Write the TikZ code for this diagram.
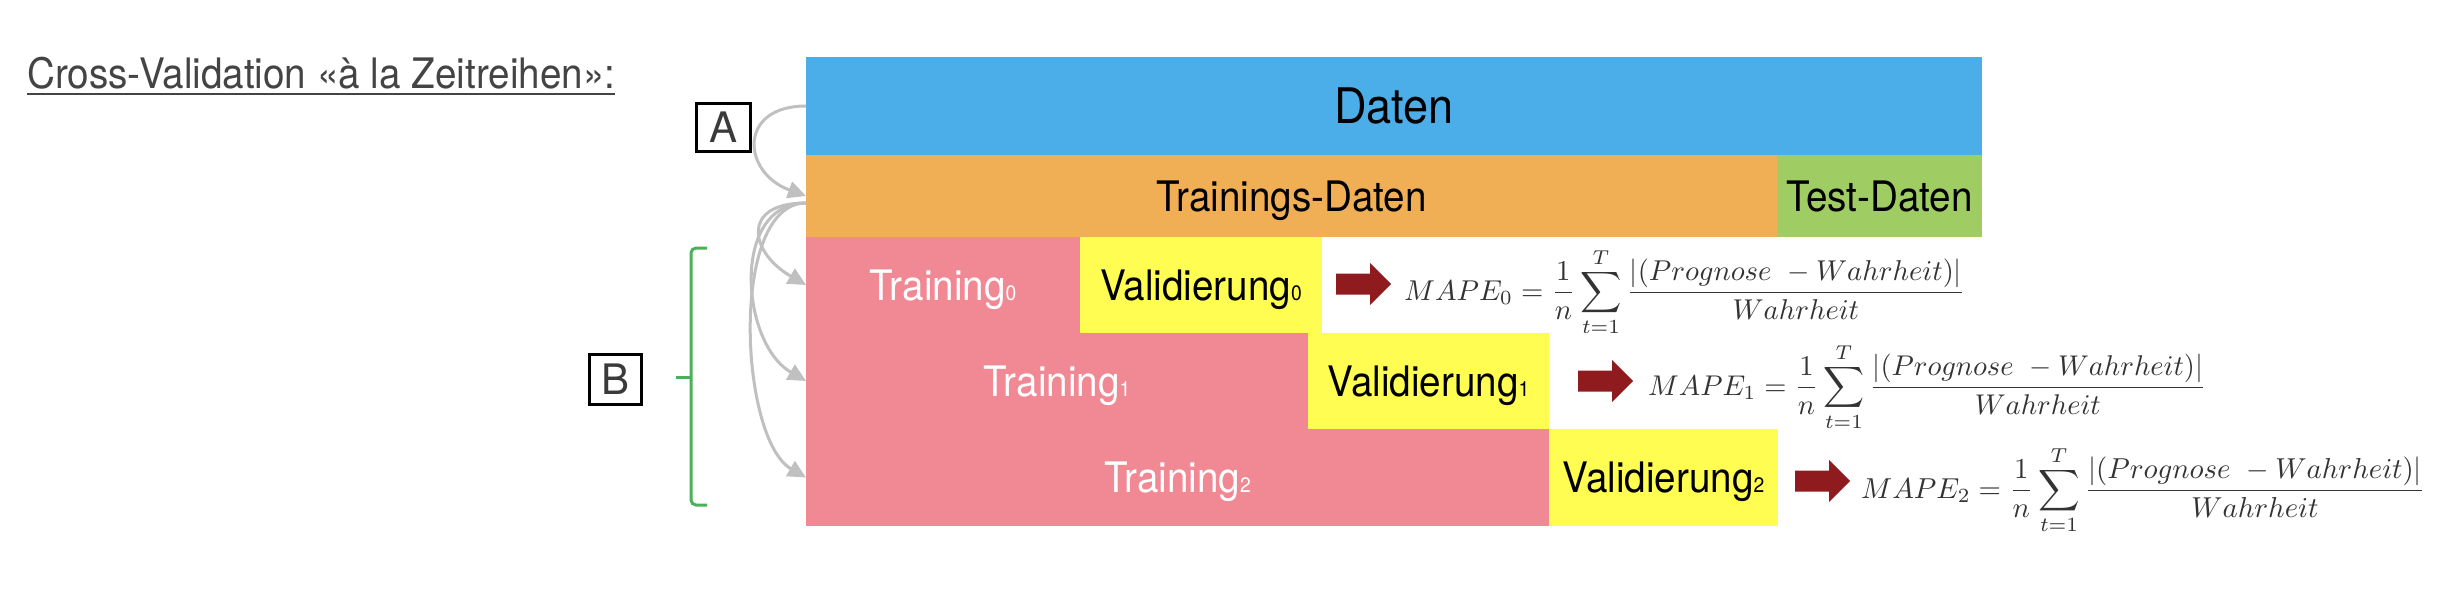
\documentclass[tikz,border=0pt]{standalone}
\usepackage[no-math]{fontspec}
\usepackage{graphicx}
\usetikzlibrary{arrows.meta}
\newfontfamily\hv{TeX Gyre Heros}[FakeStretch=0.92]
\newfontfamily\hvn{TeX Gyre Heros}
\newcommand\mysub[1]{{\fontsize{21}{21}\selectfont #1}}
\definecolor{cblue}{HTML}{4BAEE9}
\definecolor{corange}{HTML}{F0AF55}
\definecolor{cgreen}{HTML}{A0CC64}
\definecolor{cpink}{HTML}{F08994}
\definecolor{cyellow}{HTML}{FFFC52}
\definecolor{cred}{HTML}{8F1B1F}
\definecolor{cgray}{HTML}{C0C0C0}
\definecolor{cbrk}{HTML}{4CAF5A}
\definecolor{ctitle}{HTML}{444444}
\definecolor{cmath}{HTML}{333333}
\definecolor{cdark}{HTML}{3A3A3A}
\begin{document}
\begin{tikzpicture}[x=1pt,y=-1pt,
  box/.style={anchor=north west, inner sep=0pt, outer sep=0pt, text height=30pt, text depth=0pt, font=\hv\fontsize{42}{46}\selectfont},
  lab/.style={draw=black, line width=3pt, inner sep=0pt, text=cdark, text height=30pt, text depth=0pt, font=\hvn\fontsize{42}{46}\selectfont},
  garr/.style={draw=cgray, line width=3pt, -{Triangle[length=18pt,width=17pt]}},
  fml/.style={anchor=west, inner sep=0pt, text=cmath},
  redarrow/.pic={\fill[cred] (0,-10.5) -- (34,-10.5) -- (34,-21) -- (55,0) -- (34,21) -- (34,10.5) -- (0,10.5) -- cycle;}
]
\fill[white] (0,0) rectangle (2444,598);
\useasboundingbox (0,0) rectangle (2444,598);

% title
\node[anchor=base west, inner sep=0pt, text=ctitle, font=\hv\fontsize{42}{46}\selectfont] (title) at (27,88) {Cross-Validation «à la Zeitreihen»:};
\draw[ctitle, line width=2.5pt] ([yshift=-6pt]title.base west) -- ([yshift=-6pt]title.base east);

% boxes
\node[box, fill=cblue, minimum width=1176pt, minimum height=98pt, text height=35pt, font=\hv\fontsize{49}{52}\selectfont] (daten) at (806,57) {Daten};
\node[box, fill=corange, minimum width=971pt, minimum height=82pt] (train) at (806,155) {Trainings-Daten};
\node[box, fill=cgreen, minimum width=205pt, minimum height=82pt] (test) at (1777,155) {Test-Daten};
\node[box, fill=cpink, text=white, minimum width=274pt, minimum height=96pt] (tr0) at (806,237) {Training\mysub{0}};
\node[box, fill=cyellow, minimum width=242pt, minimum height=96pt] (va0) at (1080,237) {Validierung\mysub{0}};
\node[box, fill=cpink, text=white, minimum width=502pt, minimum height=96pt] (tr1) at (806,333) {Training\mysub{1}};
\node[box, fill=cyellow, minimum width=241pt, minimum height=96pt] (va1) at (1308,333) {Validierung\mysub{1}};
\node[box, fill=cpink, text=white, minimum width=743pt, minimum height=97pt] (tr2) at (806,429) {Training\mysub{2}};
\node[box, fill=cyellow, minimum width=229pt, minimum height=97pt] (va2) at (1549,429) {Validierung\mysub{2}};

% labels A and B
\node[lab, minimum width=54pt, minimum height=48pt] (A) at (723.5,127.5) {A};
\node[lab, minimum width=52pt, minimum height=50pt] (B) at (615.5,379.5) {B};

% bracket
\draw[cbrk, line width=3pt, rounded corners=5pt] (707,248) -- (691,248) -- (691,505) -- (707,505);
\draw[cbrk, line width=3pt] (691,377) -- (676,377);

% gray arrows
\draw[garr] (daten.west) to[out=180,in=160,looseness=1.95] (train.west);
\coordinate (bs) at ([yshift=-7pt]train.west);
\draw[garr] (bs) to[out=180,in=150,looseness=2.05] (tr0.west);
\draw[garr] (bs) to[out=180,in=150,looseness=1.09] (tr1.west);
\draw[garr] (bs) to[out=180,in=150,looseness=0.72] (tr2.west);

% red arrows
\pic at (1336,284) {redarrow};
\pic at (1578,381) {redarrow};
\pic at (1795,481) {redarrow};

% formulas
\node[fml] (f0) at (1404,292) {\resizebox{561pt}{!}{$\displaystyle MAPE_0=\frac{1}{n}\sum_{t=1}^{T}\frac{|(Prognose\ -Wahrheit)|}{Wahrheit}$}};
\node[fml] (f1) at (1648,387) {\resizebox{558pt}{!}{$\displaystyle MAPE_1=\frac{1}{n}\sum_{t=1}^{T}\frac{|(Prognose\ -Wahrheit)|}{Wahrheit}$}};
\node[fml] (f2) at (1861,490) {\resizebox{564pt}{!}{$\displaystyle MAPE_2=\frac{1}{n}\sum_{t=1}^{T}\frac{|(Prognose\ -Wahrheit)|}{Wahrheit}$}};
\end{tikzpicture}
\end{document}
